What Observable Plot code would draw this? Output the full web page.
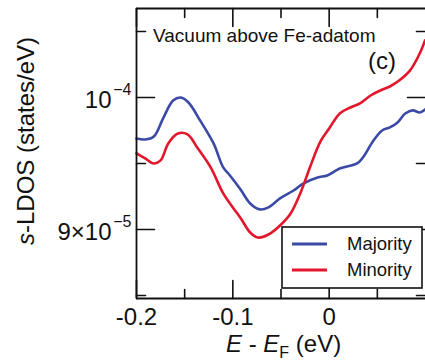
<!DOCTYPE html>
<html>
<head>
<meta charset="utf-8">
<script src="https://cdn.jsdelivr.net/npm/d3@7"></script>
<script src="https://cdn.jsdelivr.net/npm/@observablehq/plot@0.6"></script>
<style>
  html, body { margin: 0; padding: 0; background: #fff; }
  #chart { width: 425px; height: 360px; overflow: hidden; }
  svg { display: block; }
</style>
</head>
<body>
<div id="chart"></div>
<script>
// s-LDOS in the vacuum above the Fe adatom, in units of 1e-5 states/eV
const energyMajority = [-0.200, -0.191, -0.182, -0.172, -0.162, -0.154, -0.146, -0.134, -0.120, -0.110,
  -0.103, -0.092, -0.082, -0.072, -0.063, -0.051, -0.037, -0.027, -0.012, -0.002,
  0.011, 0.029, 0.035, 0.046, 0.055, 0.063, 0.071, 0.079, 0.087, 0.094, 0.0995];
const ldosMajority = [9.689, 9.682, 9.705, 9.848, 9.977, 10.000, 9.962, 9.826, 9.652, 9.470,
  9.409, 9.303, 9.197, 9.152, 9.167, 9.235, 9.295, 9.348, 9.394, 9.409,
  9.462, 9.500, 9.545, 9.674, 9.750, 9.773, 9.811, 9.879, 9.902, 9.886, 9.909];

const energyMinority = [-0.200, -0.191, -0.182, -0.175, -0.167, -0.157, -0.147, -0.137, -0.123, -0.110,
  -0.100, -0.092, -0.082, -0.074, -0.063, -0.051, -0.040, -0.030, -0.020, -0.009,
  0.000, 0.011, 0.022, 0.032, 0.043, 0.053, 0.063, 0.074, 0.084, 0.094, 0.0995];
const ldosMinority = [9.576, 9.538, 9.500, 9.523, 9.652, 9.727, 9.720, 9.621, 9.470, 9.273,
  9.167, 9.087, 8.977, 8.939, 8.962, 9.030, 9.121, 9.273, 9.470, 9.667,
  9.765, 9.879, 9.924, 9.955, 10.015, 10.053, 10.083, 10.136, 10.205, 10.333, 10.432];

const seriesNames = ["Majority", "Minority"];
const seriesColors = ["#3b4aa6", "#e3172c"];

// axes
const xDomain = [-0.2, 0.1];
const yDomain = [8.477, 10.674];
const xLabelTicks = [-0.2, -0.1, 0];
const xMinorTicks = [-0.15, -0.05, 0.05];
const yLabelTicks = [9, 10];
const yMinorTicks = [8.5, 9.5, 10.5];
const yTickBase = ["9×10", "10"];
const yTickExp = ["−5", "−4"];

const font = "'Liberation Sans', Arial, Helvetica, sans-serif";

const toRows = (xs, ys, name) => xs.map((e, i) => ({E: e, ldos: ys[i], series: name}));
const rows = [
  ...toRows(energyMajority, ldosMajority, seriesNames[0]),
  ...toRows(energyMinority, ldosMinority, seriesNames[1])
];

// short inward tick: a segment drawn from the frame edge
const tickShape = {draw(context, l) { context.moveTo(0, 0); context.lineTo(0, -l); }};
const ticks = (data, channel, frameAnchor, rotate, length) =>
  Plot.vector(data, {[channel]: d => d, frameAnchor, rotate, length, anchor: "start",
    shape: tickShape, stroke: "#111", strokeWidth: 1.6});

const chart = Plot.plot({
  width: 425,
  height: 360,
  marginLeft: 136,
  marginRight: 0,
  marginTop: 8,
  marginBottom: 62,
  style: {fontFamily: font, background: "#fff", color: "#111"},
  x: {domain: xDomain, axis: null},
  y: {domain: yDomain, axis: null},
  color: {domain: seriesNames, range: seriesColors},
  marks: [
    Plot.line(rows, {x: "E", y: "ldos", z: "series", stroke: "series", strokeWidth: 2.6, curve: "catmull-rom"}),
    // frame: left, top and bottom edges
    Plot.ruleX([xDomain[0]], {stroke: "#111", strokeWidth: 1.8}),
    Plot.ruleY(yDomain, {stroke: "#111", strokeWidth: 1.8}),
    // inward ticks on all four sides
    ticks(xLabelTicks, "x", "bottom", 0, 18),
    ticks(xMinorTicks, "x", "bottom", 0, 9),
    ticks(xLabelTicks, "x", "top", 180, 18),
    ticks(xMinorTicks, "x", "top", 180, 9),
    ticks(yLabelTicks, "y", "left", 90, 18),
    ticks(yMinorTicks, "y", "left", 90, 9),
    ticks(yLabelTicks, "y", "right", -90, 18),
    ticks(yMinorTicks, "y", "right", -90, 9),
    // x tick labels
    Plot.text(xLabelTicks, {x: d => d, frameAnchor: "bottom", lineAnchor: "top", dy: 9,
      text: d => d === 0 ? "0" : (d < 0 ? "-" : "") + Math.abs(d).toFixed(1),
      fontSize: 24, fill: "#111"}),
    // y tick labels: mantissa and superscript exponent
    Plot.text(yLabelTicks, {y: d => d, frameAnchor: "left", textAnchor: "end", dx: -25, dy: 3,
      text: (d, i) => yTickBase[i], fontSize: 24, fill: "#111"}),
    Plot.text(yLabelTicks, {y: d => d, frameAnchor: "left", textAnchor: "end", dx: -5, dy: -8,
      text: (d, i) => yTickExp[i], fontSize: 16, fill: "#111"})
  ]
});

const svg = d3.select(chart);

// axis titles
const yTitle = svg.append("text")
  .attr("transform", "translate(34,141) rotate(-90)")
  .attr("text-anchor", "middle")
  .attr("font-family", font).attr("font-size", 24).attr("fill", "#111");
yTitle.append("tspan").attr("font-style", "italic").text("s");
yTitle.append("tspan").text("-LDOS (states/eV)");

const xTitle = svg.append("text")
  .attr("x", 226).attr("y", 352)
  .attr("text-anchor", "start")
  .attr("font-family", font).attr("font-size", 24).attr("fill", "#111");
xTitle.append("tspan").attr("font-style", "italic").text("E");
xTitle.append("tspan").text(" - ");
xTitle.append("tspan").attr("font-style", "italic").text("E");
xTitle.append("tspan").attr("font-size", 16).attr("dy", 6).text("F");
xTitle.append("tspan").attr("dy", -6).text(" (eV)");

// panel annotations
svg.append("text").attr("x", 153).attr("y", 42)
  .attr("text-anchor", "start")
  .attr("font-family", font).attr("font-size", 19).attr("fill", "#111")
  .text("Vacuum above Fe-adatom");
svg.append("text").attr("x", 368).attr("y", 69)
  .attr("text-anchor", "start")
  .attr("font-family", font).attr("font-size", 24).attr("fill", "#111")
  .text("(c)");

// legend
const legend = svg.append("g");
legend.append("rect").attr("x", 282).attr("y", 227).attr("width", 140).attr("height", 61)
  .attr("fill", "#fff").attr("stroke", "#111").attr("stroke-width", 1.6);
seriesNames.forEach((name, i) => {
  const cy = 244 + i * 26;
  legend.append("line").attr("x1", 292).attr("x2", 327).attr("y1", cy).attr("y2", cy)
    .attr("stroke", seriesColors[i]).attr("stroke-width", 3);
  legend.append("text").attr("x", 347).attr("y", cy + 6)
    .attr("text-anchor", "start")
    .attr("font-family", font).attr("font-size", 18.5).attr("fill", "#111").text(name);
});

document.getElementById("chart").appendChild(chart);
</script>
</body>
</html>
